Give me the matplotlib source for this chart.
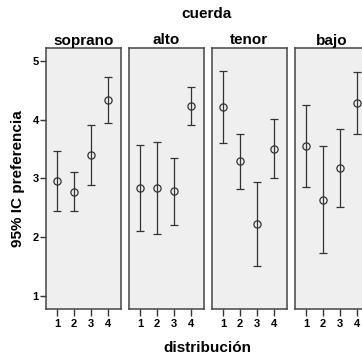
import matplotlib
matplotlib.use("Agg")
import matplotlib.pyplot as plt

plt.rcParams['font.family'] = ['Liberation Sans', 'DejaVu Sans']

cuerdas = ["soprano", "alto", "tenor", "bajo"]
distribucion = [1, 2, 3, 4]

# mean preference and 95% CI bounds per voice (cuerda) and distribution
medias = {
    "soprano": [2.96, 2.77, 3.40, 4.34],
    "alto":    [2.83, 2.83, 2.78, 4.23],
    "tenor":   [4.22, 3.29, 2.22, 3.50],
    "bajo":    [3.55, 2.63, 3.18, 4.28],
}
ic_sup = {
    "soprano": [3.46, 3.11, 3.91, 4.73],
    "alto":    [3.57, 3.62, 3.35, 4.55],
    "tenor":   [4.83, 3.76, 2.94, 4.01],
    "bajo":    [4.25, 3.56, 3.84, 4.81],
}
ic_inf = {
    "soprano": [2.45, 2.44, 2.89, 3.95],
    "alto":    [2.11, 2.05, 2.20, 3.91],
    "tenor":   [3.61, 2.82, 1.50, 3.00],
    "bajo":    [2.85, 1.73, 2.52, 3.75],
}

W, H = 362, 357
fig = plt.figure(figsize=(W / 100, H / 100), dpi=100)

lefts = [45.7, 128.7, 211.7, 294.5]
pw = 75.0
top_px, bot_px = 47.5, 309.3

dark = "#333333"
for i, (c, lx) in enumerate(zip(cuerdas, lefts)):
    ax = fig.add_axes([lx / W, (H - bot_px) / H, pw / W, (bot_px - top_px) / H])
    ax.set_facecolor("#efefef")
    m = medias[c]
    lo = [mi - l for mi, l in zip(m, ic_inf[c])]
    hi = [u - mi for mi, u in zip(m, ic_sup[c])]
    ax.errorbar(distribucion, m, yerr=[lo, hi], fmt="o", color=dark,
                ecolor=dark, elinewidth=0.9, capsize=2.6, capthick=0.9,
                markersize=5.2, markerfacecolor="none", markeredgecolor=dark,
                markeredgewidth=0.9)
    ax.set_xlim(0.31, 4.75)
    ax.set_ylim(0.77, 5.23)
    ax.set_xticks(distribucion)
    ax.set_xticklabels([str(d) for d in distribucion], fontsize=8,
                       fontweight="bold")
    ax.tick_params(axis="x", direction="out", length=5, width=1.0,
                   color=dark, pad=2)
    if i == 0:
        ax.set_yticks([1, 2, 3, 4, 5])
        ax.set_yticklabels(["1", "2", "3", "4", "5"], fontsize=8,
                           fontweight="bold")
        ax.tick_params(axis="y", direction="out", length=4, width=1.0,
                       color=dark, pad=1)
    else:
        ax.set_yticks([])
    for s in ax.spines.values():
        s.set_color("#454545")
        s.set_linewidth(1.1)
    ax.set_title(c, fontsize=11, fontweight="bold", pad=2)

fig.text(207 / W, 1 - 14 / H, "cuerda", ha="center", va="center",
         fontsize=11, fontweight="bold")
fig.text(207 / W, 1 - 348 / H, "distribución", ha="center", va="center",
         fontsize=11, fontweight="bold")
fig.text(18 / W, 1 - 178.4 / H, "95% IC preferencia", ha="center",
         va="center", rotation=90, fontsize=11, fontweight="bold")

fig.savefig("out.png", dpi=100)
